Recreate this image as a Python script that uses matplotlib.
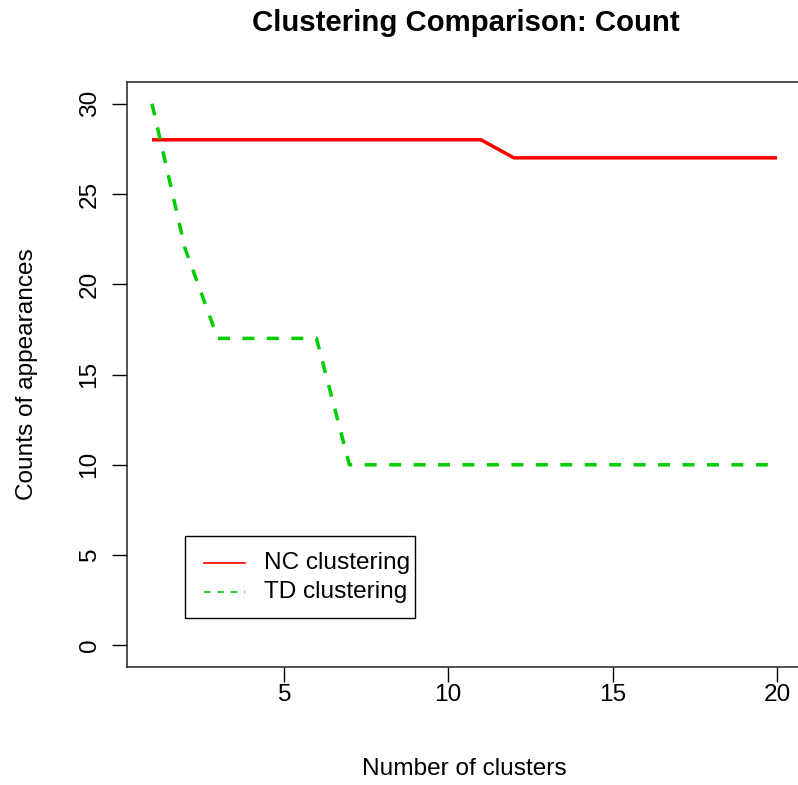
import matplotlib
matplotlib.use("Agg")
import matplotlib.pyplot as plt
from matplotlib.lines import Line2D
from matplotlib.patches import Rectangle

# cluster counts and values
n_clusters = list(range(1, 21))
nc_counts = [28] * 11 + [27] * 9
td_counts = [30, 22, 17, 17, 17, 17] + [10] * 14
x_ticks = [5, 10, 15, 20]
y_ticks = [0, 5, 10, 15, 20, 25, 30]
legend_labels = ["NC clustering", "TD clustering"]

plt.rcParams["font.family"] = ["Liberation Sans", "DejaVu Sans"]
plt.rcParams["lines.scale_dashes"] = False

W, H = 798, 785
fig = plt.figure(figsize=(W / 100, H / 100), dpi=100)
# axes box in pixels: left 127, right ~802, top 82, bottom 667
ax = fig.add_axes([127 / W, 1 - 667 / H, 675 / W, 585 / H])

ax.plot(n_clusters, nc_counts, color="#ff0000", lw=2.5, solid_capstyle="butt")
ax.plot(n_clusters, td_counts, color="#00cd00", lw=2.5, dashes=(8.6, 9.0),
        dash_capstyle="butt")

xpad = (max(n_clusters) - min(n_clusters)) * 0.04
ax.set_xlim(min(n_clusters) - xpad, max(n_clusters) + xpad)
ax.set_ylim(-1.2, 31.2)
ax.set_xticks(x_ticks)
ax.set_yticks(y_ticks)
ax.set_yticklabels([str(v) for v in y_ticks], rotation=90, va="center")
ax.tick_params(axis="both", direction="out", length=11, width=1.0,
               labelsize=17.6)
ax.tick_params(axis="x", pad=1)
ax.tick_params(axis="y", pad=8)
for s in ax.spines.values():
    s.set_linewidth(1.1)
    s.set_color("#222222")

ax.set_xlabel("Number of clusters", fontsize=17.6, labelpad=38)
ax.set_ylabel("Counts of appearances", fontsize=17.6, labelpad=29)
fig.text(466 / W, 1 - 23 / H, "Clustering Comparison: Count", fontsize=21.2,
         fontweight="bold", ha="center", va="center")

# legend drawn by hand to match R's box layout (figure pixel coords)
def px(x, y):
    return x / W, 1 - y / H

x0, y0 = px(185, 618)
x1, y1 = px(415, 536)
fig.add_artist(Rectangle((x0, y0), x1 - x0, y1 - y0, transform=fig.transFigure,
                         facecolor="white", edgecolor="black", lw=1.0))
leg_styles = [dict(color="#ff0000"), dict(color="#00cd00", dashes=(4.8, 4.8))]
for i, (lab, st) in enumerate(zip(legend_labels, leg_styles)):
    ry = 563 + i * 29
    (lx0, ly), (lx1, _) = px(204, ry), px(245, ry)
    fig.add_artist(Line2D([lx0, lx1], [ly, ly], transform=fig.transFigure,
                          lw=1.2, **st))
    tx, ty = px(264, ry)
    fig.text(tx, ty, lab, fontsize=17.6, ha="left", va="center")

fig.savefig("out.png", dpi=100)
